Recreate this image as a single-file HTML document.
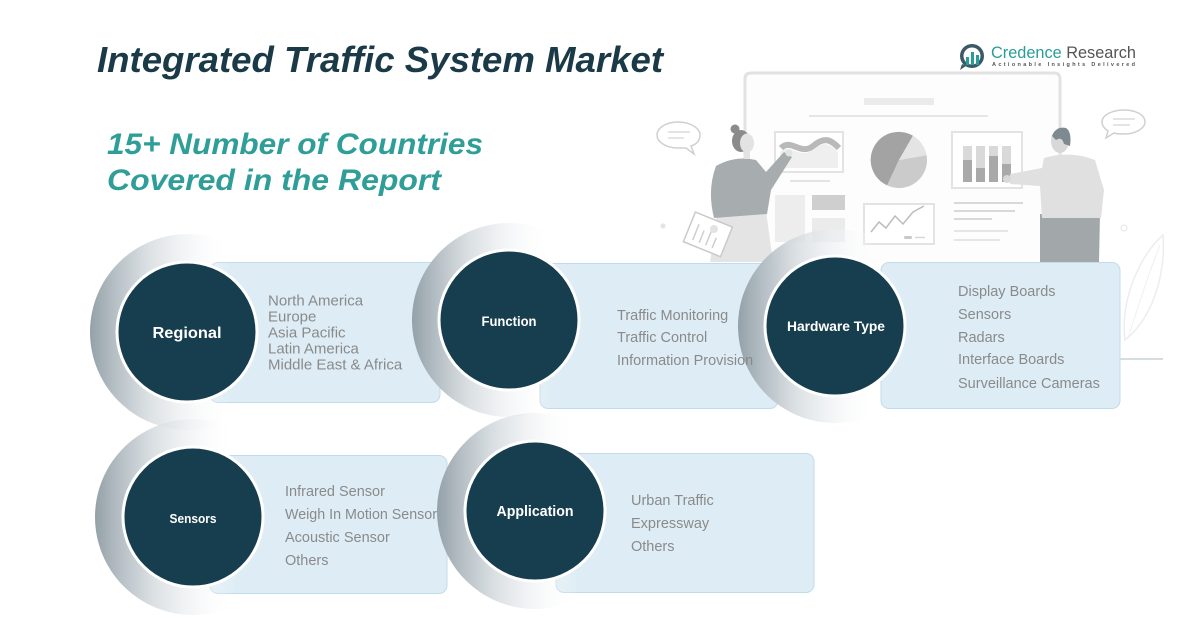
<!DOCTYPE html>
<html>
<head>
<meta charset="utf-8">
<style>
  html,body{margin:0;padding:0;background:#ffffff;}
  svg{display:block;}
  text{font-family:"Liberation Sans",sans-serif;}
</style>
</head>
<body>
<svg width="1181" height="631" viewBox="0 0 1181 631" xmlns="http://www.w3.org/2000/svg">
  <defs>
    <linearGradient id="rg" x1="0" y1="0" x2="1" y2="0">
      <stop offset="0" stop-color="#94a1a8" stop-opacity="1"/>
      <stop offset="0.12" stop-color="#b0bac0" stop-opacity="0.95"/>
      <stop offset="0.3" stop-color="#d5dbdf" stop-opacity="0.85"/>
      <stop offset="0.5" stop-color="#eef0f2" stop-opacity="0.6"/>
      <stop offset="0.72" stop-color="#ffffff" stop-opacity="0"/>
    </linearGradient>
  </defs>
  <rect width="1181" height="631" fill="#ffffff"/>

  <!-- ===== Illustration ===== -->
  <g>
    <path d="M745 262 V79 Q745 73 751 73 H1054 Q1060 73 1060 79 V262" fill="#fdfdfd" stroke="#e2e2e2" stroke-width="3"/>
    <rect x="864" y="98" width="70" height="7" fill="#ebebeb"/>
    <line x1="809" y1="116" x2="988" y2="116" stroke="#e6e6e6" stroke-width="2"/>
    <rect x="775" y="132" width="68" height="40" fill="#ffffff" stroke="#e3e3e3" stroke-width="2"/>
    <path d="M780 152 C790 142 800 160 812 150 S 830 144 838 152 L838 168 L780 168 Z" fill="#efefef"/>
    <path d="M781 148 C791 138 801 156 813 146 S 831 140 839 148" fill="none" stroke="#b9b9b9" stroke-width="6"/>
    <line x1="790" y1="181" x2="830" y2="181" stroke="#e3e3e3" stroke-width="2"/>
    <path d="M899 160 L913 135.8 A28 28 0 1 0 887.2 185.4 Z" fill="#a3a3a3"/>
    <path d="M899 160 L926.6 155.1 A28 28 0 0 1 887.2 185.4 Z" fill="#cbcbcb"/>
    <path d="M899 160 L913 135.8 A28 28 0 0 1 926.6 155.1 Z" fill="#e4e4e4"/>
    <rect x="952" y="132" width="70" height="56" fill="#ffffff" stroke="#e3e3e3" stroke-width="2"/>
    <rect x="963" y="146" width="9" height="36" fill="#d9d9d9"/>
    <rect x="963" y="160" width="9" height="22" fill="#a9a9a9"/>
    <rect x="976" y="146" width="9" height="36" fill="#d9d9d9"/>
    <rect x="976" y="168" width="9" height="14" fill="#a9a9a9"/>
    <rect x="989" y="146" width="9" height="36" fill="#d9d9d9"/>
    <rect x="989" y="156" width="9" height="26" fill="#a9a9a9"/>
    <rect x="1002" y="146" width="9" height="36" fill="#d9d9d9"/>
    <rect x="1002" y="164" width="9" height="18" fill="#a9a9a9"/>
    <rect x="775" y="195" width="30" height="47" fill="#ededed"/>
    <rect x="812" y="195" width="33" height="15" fill="#cfcfcf"/>
    <rect x="812" y="218" width="33" height="24" fill="#ebebeb"/>
    <rect x="864" y="204" width="70" height="40" fill="#ffffff" stroke="#e3e3e3" stroke-width="2"/>
    <polyline points="871,232 879,222 886,228 895,216 903,224 913,212 924,206" fill="none" stroke="#bdbdbd" stroke-width="1.5"/>
    <rect x="904" y="236" width="8" height="3" rx="1.5" fill="#c9c9c9"/>
    <line x1="915" y1="237.5" x2="925" y2="237.5" stroke="#d6d6d6" stroke-width="1.5"/>
    <line x1="954" y1="203" x2="1023" y2="203" stroke="#d9d9d9" stroke-width="2"/>
    <line x1="954" y1="211" x2="1015" y2="211" stroke="#d9d9d9" stroke-width="2"/>
    <line x1="954" y1="219" x2="992" y2="219" stroke="#d9d9d9" stroke-width="2"/>
    <line x1="954" y1="231" x2="1008" y2="231" stroke="#e6e6e6" stroke-width="2"/>
    <line x1="954" y1="240" x2="1000" y2="240" stroke="#e6e6e6" stroke-width="2"/>

    <!-- woman -->
    <path d="M710 262 L717 214 L766 211 L773 262 Z" fill="#e4e4e4"/>
    <path d="M716 166 Q735 155 756 160 L766 172 L784 152 L792 157 L771 190 L767 214 L714 218 Q707 190 716 166 Z" fill="#a7acaf"/>
    <circle cx="735" cy="129" r="4.5" fill="#8b8b8b"/>
    <ellipse cx="741" cy="141" rx="9" ry="11" fill="#8b8b8b"/>
    <ellipse cx="747" cy="143" rx="7" ry="9.5" fill="#e3e3e3"/>
    <rect x="744" y="151" width="6" height="8" fill="#e3e3e3"/>
    <circle cx="789" cy="153" r="3.5" fill="#e3e3e3"/>
    <g transform="rotate(22 707 234)">
      <rect x="688" y="218" width="40" height="32" fill="#ffffff" stroke="#c9c9c9" stroke-width="1.5"/>
      <line x1="696" y1="228" x2="696" y2="245" stroke="#cfcfcf" stroke-width="1.5"/>
      <line x1="703" y1="232" x2="703" y2="245" stroke="#cfcfcf" stroke-width="1.5"/>
      <line x1="710" y1="226" x2="710" y2="245" stroke="#cfcfcf" stroke-width="1.5"/>
      <line x1="717" y1="234" x2="717" y2="245" stroke="#cfcfcf" stroke-width="1.5"/>
    </g>
    <circle cx="714" cy="229" r="4" fill="#e3e3e3"/>

    <!-- man -->
    <path d="M1040 262 L1040 214 L1100 214 L1099 262 Z" fill="#a2a7aa"/>
    <path d="M1044 158 Q1070 150 1095 160 L1104 190 L1101 218 L1042 218 L1040 186 L1010 184 L1010 174 L1042 168 Z" fill="#e0e0e0"/>
    <ellipse cx="1060" cy="141" rx="9" ry="12" fill="#d8d8d8"/>
    <path d="M1052 136 Q1056 126 1066 128 Q1072 132 1070 146 L1064 144 Q1062 136 1056 140 Z" fill="#7f8a90"/>
    <circle cx="1007" cy="179" r="4" fill="#d8d8d8"/>

    <!-- bubbles -->
    <path d="M678 122 C666 122 657 128 657 135 C657 142 666 148 678 148 L686 148 L694 154 L691 146 C697 144 700 140 700 135 C700 128 690 122 678 122 Z" fill="#ffffff" stroke="#d0d0d0" stroke-width="1.5"/>
    <line x1="668" y1="132" x2="690" y2="132" stroke="#dcdcdc" stroke-width="1.5"/>
    <line x1="668" y1="138" x2="684" y2="138" stroke="#dcdcdc" stroke-width="1.5"/>
    <path d="M1124 110 C1112 110 1102 115 1102 122 C1102 126 1105 129 1108 131 L1106 138 L1114 133 C1117 134 1120 134 1124 134 C1136 134 1145 128 1145 122 C1145 115 1136 110 1124 110 Z" fill="#ffffff" stroke="#d0d0d0" stroke-width="1.5"/>
    <line x1="1113" y1="119" x2="1135" y2="119" stroke="#dcdcdc" stroke-width="1.5"/>
    <line x1="1113" y1="125" x2="1130" y2="125" stroke="#dcdcdc" stroke-width="1.5"/>

    <path d="M1125 340 C1120 300 1140 255 1163 235 C1166 280 1150 320 1125 340 Z" fill="none" stroke="#ededed" stroke-width="1.5"/>
    <path d="M1128 338 C1140 300 1150 270 1160 245" fill="none" stroke="#efefef" stroke-width="1"/>
    <circle cx="1124" cy="228" r="3" fill="none" stroke="#e6e6e6" stroke-width="1"/>
    <circle cx="663" cy="226" r="2.5" fill="#e3e3e3"/>
    <line x1="1120" y1="359" x2="1163" y2="359" stroke="#c9d2d6" stroke-width="1.5"/>
  </g>

  <!-- ===== Title ===== -->
  <text x="97" y="72" font-size="36" font-weight="bold" font-style="italic" fill="#1b3a47" textLength="566" lengthAdjust="spacingAndGlyphs">Integrated Traffic System Market</text>
  <text x="107" y="154" font-size="30" font-weight="bold" font-style="italic" fill="#2f9e98" textLength="376" lengthAdjust="spacingAndGlyphs">15+ Number of Countries</text>
  <text x="107" y="190" font-size="30" font-weight="bold" font-style="italic" fill="#2f9e98" textLength="334" lengthAdjust="spacingAndGlyphs">Covered in the Report</text>

  <!-- ===== Logo ===== -->
  <g>
    <circle cx="972" cy="56" r="12" fill="#3b5966"/>
    <circle cx="972" cy="56" r="8.5" fill="#ffffff"/>
    <rect x="966" y="57" width="3" height="8" fill="#2a9d9a"/>
    <rect x="971" y="52" width="3" height="13" fill="#2a9d9a"/>
    <rect x="976" y="55" width="3" height="10" fill="#2a9d9a"/>
    <path d="M962 64 L960 70 L966 66 Z" fill="#3b5966"/>
    <text x="991" y="58" font-size="16.5" textLength="145" lengthAdjust="spacingAndGlyphs"><tspan fill="#2a9d9a">Credence</tspan><tspan fill="#555555"> Research</tspan></text>
    <text x="992" y="66" font-size="5.5" font-weight="bold" fill="#555555" textLength="143" lengthAdjust="spacing">Actionable Insights Delivered</text>
  </g>

  <!-- ===== Boxes ===== -->
  <rect x="210" y="262.5" width="230" height="140" rx="8" fill="#deedf5" stroke="#c2dbe8" stroke-width="1"/>
  <rect x="540" y="263.5" width="238" height="145" rx="8" fill="#deedf5" stroke="#c2dbe8" stroke-width="1"/>
  <rect x="881" y="262.5" width="239" height="146" rx="8" fill="#deedf5" stroke="#c2dbe8" stroke-width="1"/>
  <rect x="210" y="455.5" width="237" height="138" rx="8" fill="#deedf5" stroke="#c2dbe8" stroke-width="1"/>
  <rect x="556" y="453.5" width="258" height="139" rx="8" fill="#deedf5" stroke="#c2dbe8" stroke-width="1"/>

  <!-- ===== Rings ===== -->
  <circle cx="188" cy="332" r="98" fill="url(#rg)"/>
  <circle cx="509" cy="320" r="97" fill="url(#rg)"/>
  <circle cx="835" cy="326" r="97" fill="url(#rg)"/>
  <circle cx="193" cy="517" r="98" fill="url(#rg)"/>
  <circle cx="535" cy="511" r="98" fill="url(#rg)"/>

  <!-- ===== Dark circles ===== -->
  <g fill="#173e4e" stroke="#ffffff" stroke-width="3">
    <circle cx="187" cy="332" r="70"/>
    <circle cx="509" cy="320" r="70"/>
    <circle cx="835" cy="326" r="70"/>
    <circle cx="193" cy="517" r="70"/>
    <circle cx="535" cy="511" r="70"/>
  </g>
  <g fill="#ffffff" font-weight="bold" text-anchor="middle">
    <text x="187" y="338" font-size="16" textLength="69" lengthAdjust="spacingAndGlyphs">Regional</text>
    <text x="509" y="326" font-size="13.5" textLength="55" lengthAdjust="spacingAndGlyphs">Function</text>
    <text x="836" y="331" font-size="13.5" textLength="98" lengthAdjust="spacingAndGlyphs">Hardware Type</text>
    <text x="193" y="523" font-size="13" textLength="47" lengthAdjust="spacingAndGlyphs">Sensors</text>
    <text x="535" y="516" font-size="14.5" textLength="77" lengthAdjust="spacingAndGlyphs">Application</text>
  </g>

  <!-- ===== Items ===== -->
  <g fill="#8a8a8a" font-size="15">
    <text x="268" y="305.5">North America</text>
    <text x="268" y="321.5">Europe</text>
    <text x="268" y="337.5">Asia Pacific</text>
    <text x="268" y="353.5">Latin America</text>
    <text x="268" y="369.5">Middle East &amp; Africa</text>
  </g>
  <g fill="#8a8a8a" font-size="14.5">
    <text x="617" y="320">Traffic Monitoring</text>
    <text x="617" y="342">Traffic Control</text>
    <text x="617" y="365">Information Provision</text>

    <text x="958" y="296">Display Boards</text>
    <text x="958" y="319">Sensors</text>
    <text x="958" y="342">Radars</text>
    <text x="958" y="364">Interface Boards</text>
    <text x="958" y="388">Surveillance Cameras</text>

    <text x="285" y="496">Infrared Sensor</text>
    <text x="285" y="519" textLength="152" lengthAdjust="spacingAndGlyphs">Weigh In Motion Sensor</text>
    <text x="285" y="542">Acoustic Sensor</text>
    <text x="285" y="565">Others</text>

    <text x="631" y="505">Urban Traffic</text>
    <text x="631" y="528">Expressway</text>
    <text x="631" y="551">Others</text>
  </g>
</svg>
</body>
</html>
